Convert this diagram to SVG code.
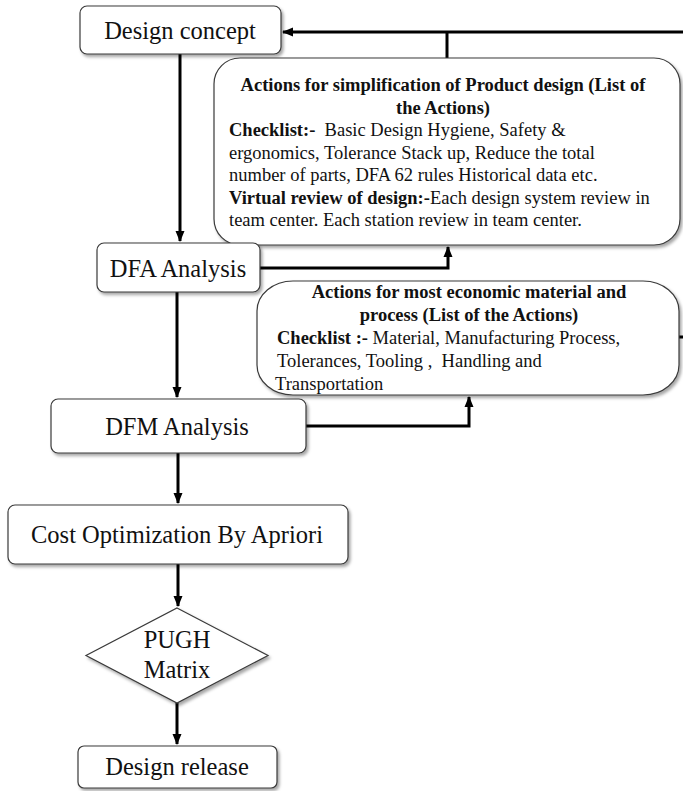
<svg xmlns="http://www.w3.org/2000/svg" width="683" height="791" viewBox="0 0 683 791">
<defs>
<filter id="sh" x="-10%" y="-10%" width="125%" height="130%">
<feDropShadow dx="2" dy="2.5" stdDeviation="1.5" flood-color="#000" flood-opacity="0.35"/>
</filter>
<marker id="ah" markerUnits="userSpaceOnUse" markerWidth="11" markerHeight="10" refX="10" refY="5" orient="auto">
<path d="M0,0.5 L11,5 L0,9.5 z" fill="#000"/>
</marker>
<style>
.box{fill:#fff;stroke:#3a3a3a;stroke-width:1.2;filter:url(#sh)}
.lbl{font-family:"Liberation Serif","Times New Roman",serif;font-size:24.5px;fill:#111;text-anchor:middle}
.sm{font-family:"Liberation Serif","Times New Roman",serif;font-size:18.5px;fill:#111;white-space:pre}
.b{font-weight:bold}
.c{text-anchor:middle}
.con{fill:none;stroke:#000;stroke-width:3}
</style>
</defs>
<rect width="683" height="791" fill="#fff"/>

<g id="connectors">
<path class="con" d="M683,32 H283" marker-end="url(#ah)"/>
<path class="con" d="M447,32 V58"/>
<path class="con" d="M180,54 V241" marker-end="url(#ah)"/>
<path class="con" d="M260,268 H448 V247" marker-end="url(#ah)"/>
<path class="con" d="M177,292 V397" marker-end="url(#ah)"/>
<path class="con" d="M306,426 H469 V397" marker-end="url(#ah)"/>
<path class="con" d="M679,337 H683"/>
<path class="con" d="M178,453 V503" marker-end="url(#ah)"/>
<path class="con" d="M178,564 V606" marker-end="url(#ah)"/>
<path class="con" d="M177,703 V744" marker-end="url(#ah)"/>
</g>

<g id="design-concept">
<rect class="box" x="80" y="6" width="201" height="48" rx="7"/>
<text class="lbl" x="180" y="39">Design concept</text>
</g>

<g id="actions-simplification">
<rect class="box" x="214" y="58" width="466" height="187" rx="26"/>
<text class="sm b c" x="443" y="91">Actions for simplification of Product design (List of</text>
<text class="sm b c" x="443" y="113.5">the Actions)</text>
<text class="sm" x="229" y="136"><tspan class="b">Checklist:-</tspan>  Basic Design Hygiene, Safety &amp;</text>
<text class="sm" x="229" y="158.5">ergonomics, Tolerance Stack up, Reduce the total</text>
<text class="sm" x="229" y="181">number of parts, DFA 62 rules Historical data etc.</text>
<text class="sm" x="229" y="203.5"><tspan class="b">Virtual review of design:-</tspan>Each design system review in</text>
<text class="sm" x="229" y="226">team center. Each station review in team center.</text>
</g>

<g id="dfa-analysis">
<rect class="box" x="97" y="243" width="163" height="49" rx="7"/>
<text class="lbl" x="178" y="277">DFA Analysis</text>
</g>

<g id="actions-material">
<rect class="box" x="257" y="281" width="422" height="114" rx="36" ry="30"/>
<text class="sm b c" x="469" y="298">Actions for most economic material and</text>
<text class="sm b c" x="469" y="321">process (List of the Actions)</text>
<text class="sm" x="277" y="344"><tspan class="b">Checklist :-</tspan> Material, Manufacturing Process,</text>
<text class="sm" x="277" y="367">Tolerances, Tooling ,  Handling and</text>
<text class="sm" x="275" y="390">Transportation</text>
</g>

<g id="dfm-analysis">
<rect class="box" x="51" y="399" width="255" height="54" rx="7"/>
<text class="lbl" x="177" y="435">DFM Analysis</text>
</g>

<g id="cost-optimization">
<rect class="box" x="8" y="505" width="340" height="59" rx="7"/>
<text class="lbl" x="177" y="543">Cost Optimization By Apriori</text>
</g>

<g id="pugh-matrix">
<polygon class="box" points="177,608 268,655.5 177,703 86,655.5"/>
<text class="lbl" x="177" y="648">PUGH</text>
<text class="lbl" x="177" y="678">Matrix</text>
</g>

<g id="design-release">
<rect class="box" x="78" y="746" width="199" height="42" rx="6"/>
<text class="lbl" x="177" y="775">Design release</text>
</g>
</svg>
